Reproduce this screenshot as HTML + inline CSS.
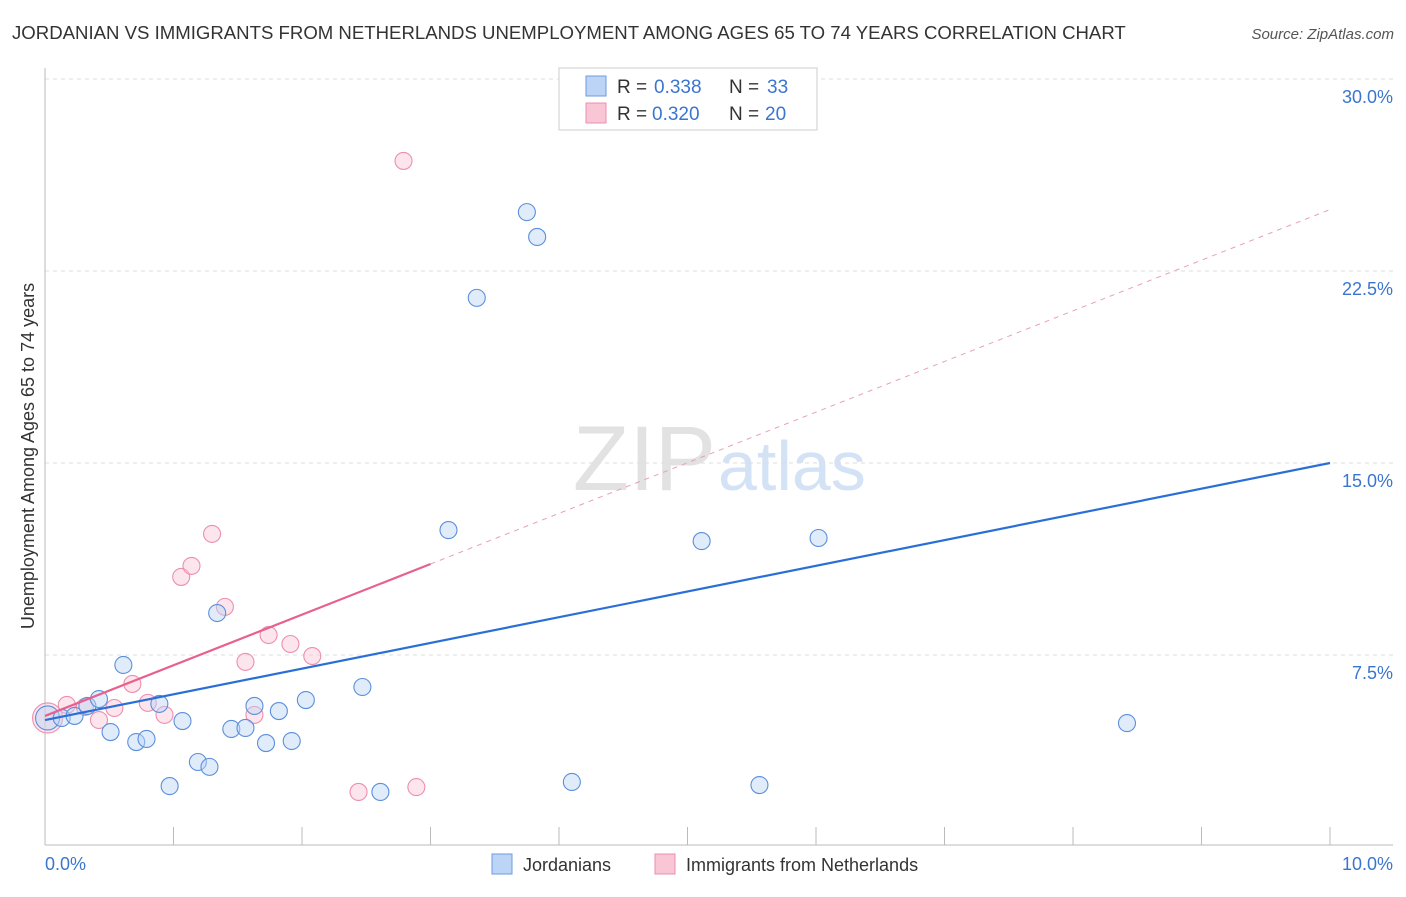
<!DOCTYPE html>
<html><head><meta charset="utf-8">
<style>
body{margin:0;background:#fff;font-family:"Liberation Sans",sans-serif;}
svg text{font-family:"Liberation Sans",sans-serif;}
</style></head>
<body>
<svg width="1406" height="892" xmlns="http://www.w3.org/2000/svg">
<text x="12" y="39" font-size="18.6" fill="#333">JORDANIAN VS IMMIGRANTS FROM NETHERLANDS UNEMPLOYMENT AMONG AGES 65 TO 74 YEARS CORRELATION CHART</text>
<text x="1394" y="39" font-size="15" fill="#555" font-style="italic" text-anchor="end">Source: ZipAtlas.com</text>
<text x="716" y="490" font-size="92" fill="#e2e2e2" text-anchor="end" font-family="Liberation Serif">ZIP</text>
<text x="718" y="490" font-size="70" fill="#d3e2f5">atlas</text>
<g id="grid"></g>
<g id="axes"></g>
<g id="marks"></g>
<text transform="translate(34,456) rotate(-90)" font-size="18" fill="#333" text-anchor="middle">Unemployment Among Ages 65 to 74 years</text>
<text x="45" y="870" font-size="18" fill="#3a76d0">0.0%</text>
<text x="1393" y="870" font-size="18" fill="#3a76d0" text-anchor="end">10.0%</text>
<g>
<rect x="559" y="68" width="258" height="62" fill="#fff" stroke="#ccc"/>
<rect x="586" y="76" width="20" height="20" fill="#bcd4f6" stroke="#6d9be0"/>
<rect x="586" y="103" width="20" height="20" fill="#f9c6d6" stroke="#ec8fad"/>
<text x="617" y="93" font-size="19" fill="#333">R =</text>
<text x="654" y="93" font-size="19" fill="#3a76d0">0.338</text>
<text x="729" y="93" font-size="19" fill="#333">N =</text>
<text x="767" y="93" font-size="19" fill="#3a76d0">33</text>
<text x="617" y="120" font-size="19" fill="#333">R =</text>
<text x="652" y="120" font-size="19" fill="#3a76d0">0.320</text>
<text x="729" y="120" font-size="19" fill="#333">N =</text>
<text x="765" y="120" font-size="19" fill="#3a76d0">20</text>
</g>
<g>
<rect x="492" y="854" width="20" height="20" fill="#bcd4f6" stroke="#6d9be0"/>
<text x="523" y="871" font-size="18" fill="#333">Jordanians</text>
<rect x="655" y="854" width="20" height="20" fill="#f9c6d6" stroke="#ec8fad"/>
<text x="686" y="871" font-size="18" fill="#333">Immigrants from Netherlands</text>
</g>
</svg>
<script>
const yTicks=[7.5,15,22.5,30];
const yTickLabels=["7.5%","15.0%","22.5%","30.0%"];
const blueX=[0.02,0.13,0.23,0.33,0.42,0.51,0.61,0.71,0.79,0.89,0.97,1.07,1.19,1.28,1.34,1.45,1.56,1.63,1.72,1.82,1.92,2.03,2.47,2.61,3.14,3.36,3.75,3.83,4.10,5.11,5.56,6.02,8.42];
const blueY=[5.04,5.04,5.12,5.51,5.78,4.49,7.11,4.10,4.22,5.59,2.38,4.92,3.32,3.13,9.14,4.61,4.65,5.51,4.06,5.31,4.14,5.74,6.25,2.15,12.38,21.45,24.80,23.83,2.54,11.95,2.42,12.07,4.84];
const pinkX=[0.02,0.17,0.31,0.42,0.54,0.68,0.80,0.93,1.06,1.14,1.30,1.40,1.56,1.63,1.74,1.91,2.08,2.44,2.79,2.89];
const pinkY=[5.04,5.55,5.47,4.96,5.43,6.37,5.63,5.16,10.55,10.98,12.23,9.38,7.23,5.16,8.28,7.93,7.46,2.15,26.80,2.34];
const blueTrend=[4.96,15.0];
const pinkTrend=[5.12,24.9];
const pinkSolidEnd=3.0;
const NS="http://www.w3.org/2000/svg";
const X=v=>45+v*128.5, Y=v=>847-v*25.6;
function mk(t,a,p){const e=document.createElementNS(NS,t);for(const k in a)e.setAttribute(k,a[k]);p.appendChild(e);return e;}
const grid=document.getElementById('grid'),axes=document.getElementById('axes'),marks=document.getElementById('marks');
yTicks.forEach((t,i)=>{
 const l=mk('line',{x1:45,x2:1393,y1:Y(t),y2:Y(t),stroke:'#ddd','stroke-dasharray':'4,4'},grid);
 
 
 const tx=mk('text',{x:1393,y:Y(t)+24,'font-size':18,fill:'#3a76d0','text-anchor':'end'},grid);
 tx.textContent=yTickLabels[i];
 
 
});
const ya=mk('line',{x1:45,x2:45,y1:68,y2:845,stroke:'#bbb'},axes);


const xa=mk('line',{x1:45,x2:1393,y1:845,y2:845,stroke:'#bbb'},axes);


for(let i=1;i<=10;i++){
 const t=mk('line',{x1:X(i),x2:X(i),y1:827,y2:845,stroke:'#bbb'},axes);
 
 
}
function dot(x,y,r,fill,stroke,name){
 const c=mk('circle',{cx:X(x),cy:Y(y),r:r,fill:fill,'fill-opacity':0.45,stroke:stroke,'stroke-width':1.1},marks);
 
 
}
pinkX.forEach((x,i)=>dot(x,pinkY[i],i===0?15:8.5,'#f9c6d6','#ec8fad','netherlands-point'));
blueX.forEach((x,i)=>dot(x,blueY[i],i===0?12:8.5,'#bcd4f6','#5b8fdc','jordanian-point'));
const bl=mk('line',{x1:X(0),y1:Y(blueTrend[0]),x2:X(10),y2:Y(blueTrend[1]),stroke:'#2a6fd6','stroke-width':2.2},marks);


const pv=x=>pinkTrend[0]+(pinkTrend[1]-pinkTrend[0])*x/10;
const pd=mk('line',{x1:X(pinkSolidEnd),y1:Y(pv(pinkSolidEnd)),x2:X(10),y2:Y(pinkTrend[1]),stroke:'#e8a0b8','stroke-width':1,'stroke-dasharray':'5,5'},marks);


const pl=mk('line',{x1:X(0),y1:Y(pinkTrend[0]),x2:X(pinkSolidEnd),y2:Y(pv(pinkSolidEnd)),stroke:'#e8608e','stroke-width':2.2},marks);


</script>
</body></html>
